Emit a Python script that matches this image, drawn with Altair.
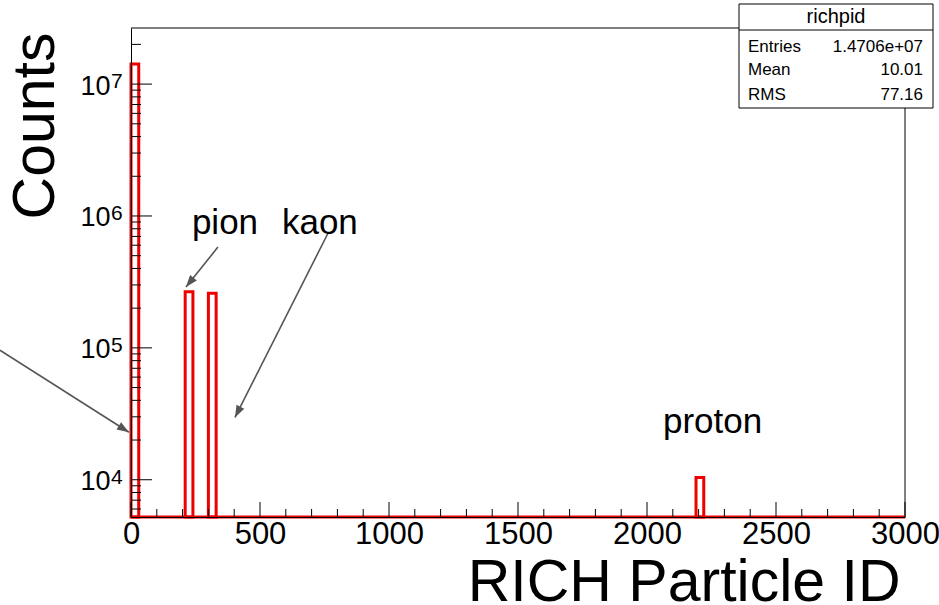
import altair as alt
import pandas as pd

FONT = "Liberation Sans"
RED = "#ee0000"
GREY = "#555555"

# ---- histogram (non-empty bins of width 30 over 0-3000) ----
bin_lo = [0, 210, 300, 2190]
bin_hi = [30, 240, 330, 2220]
bin_counts = [1.42e7, 2.66e5, 2.59e5, 1.04e4]

x_domain = [0, 3000]
y_domain = [5218, 2.663e7]

x_major = [0, 500, 1000, 1500, 2000, 2500, 3000]
x_minor = [100, 200, 300, 400, 600, 700, 800, 900, 1100, 1200, 1300, 1400,
           1600, 1700, 1800, 1900, 2100, 2200, 2300, 2400, 2600, 2700, 2800, 2900]
y_major = [1e4, 1e5, 1e6, 1e7]
y_exp = ["4", "5", "6", "7"]
y_minor = [6e3, 7e3, 8e3, 9e3,
           2e4, 3e4, 4e4, 5e4, 6e4, 7e4, 8e4, 9e4,
           2e5, 3e5, 4e5, 5e5, 6e5, 7e5, 8e5, 9e5,
           2e6, 3e6, 4e6, 5e6, 6e6, 7e6, 8e6, 9e6,
           2e7]

# ---- annotations ----
label_text = ["pion", "kaon", "proton"]
label_x = [236, 585, 2062]
label_y = [7.3e5, 7.3e5, 2.25e4]

arrow_x0 = [-508, 337, 764]
arrow_y0 = [9.6e4, 5.81e5, 7.43e5]
arrow_x1 = [-8, 213, 403]
arrow_y1 = [2.29e4, 2.89e5, 2.97e4]
arrow_angle = [122.4, 218.7, 206.8]

stat_title = "richpid"
stat_names = ["Entries", "Mean", "RMS"]
stat_values = ["1.4706e+07", "10.01", "77.16"]

W, H = 774, 489

xs = alt.Scale(domain=x_domain, nice=False, zero=False)
ys = alt.Scale(type="log", domain=y_domain, nice=False)

one = pd.DataFrame({"d": [0]})

hist_df = pd.DataFrame({"lo": bin_lo, "hi": bin_hi, "count": bin_counts})

hist = alt.Chart(hist_df).mark_rect(
    fillOpacity=0, stroke=RED, strokeWidth=3, strokeJoin="miter"
).encode(
    x=alt.X("lo:Q", scale=xs, axis=alt.Axis(
        values=x_major, format="d", ticks=False, grid=False, labelFontSize=31,
        labelFont=FONT, labelColor="black", labelPadding=2, labelFlush=False,
        labelOverlap=False, domainColor="black", domainWidth=1, zindex=1,
        title="RICH Particle ID", titleFont=FONT, titleFontSize=59,
        titleFontWeight="normal", titleColor="black", titleAlign="right",
        titleBaseline="alphabetic", titleX=769, titleY=83)),
    x2="hi:Q",
    y=alt.Y("count:Q", scale=ys, axis=alt.Axis(
        values=y_major, labelExpr="'10'", ticks=False, grid=False,
        labelFontSize=27, labelFont=FONT, labelColor="black", labelPadding=21,
        labelOffset=2, labelFlush=False, labelOverlap=False,
        domainColor="black", domainWidth=1, zindex=1,
        title="Counts", titleFont=FONT, titleFontSize=59, titleFontWeight="normal",
        titleColor="black", titleAngle=270, titleAlign="right",
        titleBaseline="alphabetic", titleX=-78, titleY=4)),
    y2=alt.Y2(datum=y_domain[0]),
)

baseline = alt.Chart(one).mark_rule(color=RED, strokeWidth=3).encode(
    x=alt.X(datum=x_domain[0]), x2=alt.X2(datum=x_domain[1]), y=alt.value(H)
)

frame_top = alt.Chart(one).mark_rule(color="black", strokeWidth=1).encode(
    x=alt.value(0), x2=alt.value(W), y=alt.value(0)
)
frame_right = alt.Chart(one).mark_rule(color="black", strokeWidth=1).encode(
    x=alt.value(W), y=alt.value(0), y2=alt.value(H)
)

xmaj = alt.Chart(pd.DataFrame({"v": x_major})).mark_rule(color="black", strokeWidth=1).encode(
    x="v:Q", y=alt.value(H), y2=alt.value(H - 15))
xmin = alt.Chart(pd.DataFrame({"v": x_minor})).mark_rule(color="black", strokeWidth=1).encode(
    x="v:Q", y=alt.value(H), y2=alt.value(H - 8))
ymaj = alt.Chart(pd.DataFrame({"v": y_major})).mark_rule(color="black", strokeWidth=1).encode(
    y="v:Q", x=alt.value(0), x2=alt.value(21))
ymin = alt.Chart(pd.DataFrame({"v": y_minor})).mark_rule(color="black", strokeWidth=1).encode(
    y="v:Q", x=alt.value(0), x2=alt.value(10))

exps = alt.Chart(pd.DataFrame({"v": y_major, "e": y_exp})).mark_text(
    align="left", baseline="alphabetic", fontSize=21, dy=4, font=FONT, color="black"
).encode(y="v:Q", x=alt.value(-20), text="e:N")

arrow_df = pd.DataFrame({"x0": arrow_x0, "y0": arrow_y0, "x1": arrow_x1,
                         "y1": arrow_y1, "ang": arrow_angle})
arrows = alt.Chart(arrow_df).mark_rule(color=GREY, strokeWidth=1.6).encode(
    x="x0:Q", y="y0:Q", x2="x1:Q", y2="y1:Q")
heads = alt.Chart(arrow_df).mark_point(
    shape="M0,0L-0.36,1L0.36,1Z", filled=True, opacity=1, color=GREY, size=576
).encode(x="x1:Q", y="y1:Q", angle=alt.Angle("ang:Q", scale=None))

labels = alt.Chart(pd.DataFrame({"t": label_text, "x": label_x, "y": label_y})).mark_text(
    align="left", baseline="alphabetic", fontSize=35, font=FONT, color="black"
).encode(x="x:Q", y="y:Q", text="t:N")

# ---- statistics box ----
box = alt.Chart(one).mark_rect(fill="white", stroke="black", strokeWidth=1).encode(
    x=alt.value(608), x2=alt.value(802), y=alt.value(-24), y2=alt.value(80))
box_sep = alt.Chart(one).mark_rule(color="black", strokeWidth=1).encode(
    x=alt.value(608), x2=alt.value(802), y=alt.value(2))
box_title = alt.Chart(one).mark_text(
    text=stat_title, fontSize=20, font=FONT, align="center", baseline="alphabetic", color="black"
).encode(x=alt.value(705), y=alt.value(-5))

stat_layers = []
row_y = [24, 47, 72]
for name, val, yy in zip(stat_names, stat_values, row_y):
    stat_layers.append(alt.Chart(one).mark_text(
        text=name, fontSize=17, font=FONT, align="left", baseline="alphabetic", color="black"
    ).encode(x=alt.value(617), y=alt.value(yy)))
    stat_layers.append(alt.Chart(one).mark_text(
        text=val, fontSize=17, font=FONT, align="right", baseline="alphabetic", color="black"
    ).encode(x=alt.value(792), y=alt.value(yy)))

chart = alt.layer(
    frame_top, frame_right, hist, baseline, xmaj, xmin, ymaj, ymin, exps,
    arrows, heads, labels, box, box_sep, box_title, *stat_layers
).properties(
    width=W, height=H,
    padding={"left": 131, "top": 28, "right": 34, "bottom": 88},
    autosize=alt.AutoSizeParams(type="none"),
).configure(font=FONT).configure_view(stroke=None)

chart.save("out.html", embed_options={"renderer": "svg", "actions": False})
